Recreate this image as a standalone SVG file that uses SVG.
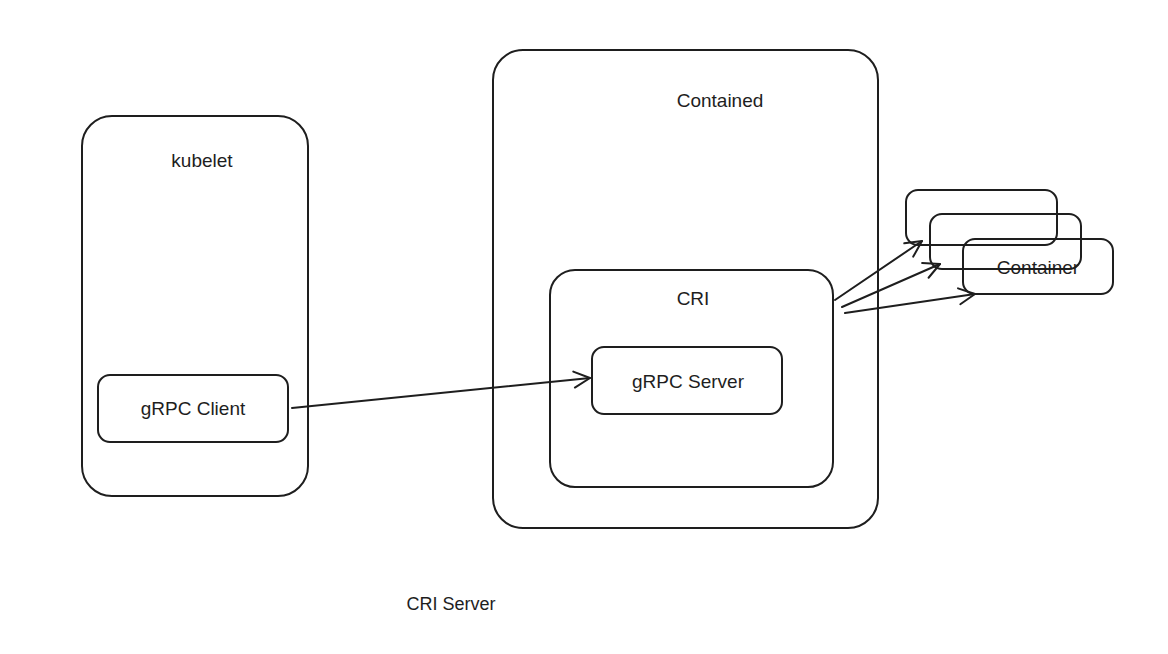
<svg xmlns="http://www.w3.org/2000/svg" width="1168" height="654" viewBox="0 0 1168 654">
<defs>
<style>
.box{fill:none;stroke:#1e1e1e;stroke-width:2;stroke-linejoin:round}
.t{font-family:"Liberation Sans","DejaVu Sans",sans-serif;font-size:19px;fill:#1e1e1e;text-anchor:middle;dominant-baseline:central}
.c{fill:none;stroke:#1e1e1e;stroke-width:2;stroke-linecap:round}
</style>
<marker id="ah" viewBox="0 0 20 20" refX="18" refY="10" markerWidth="20" markerHeight="20" markerUnits="userSpaceOnUse" orient="auto">
<path d="M2,2 L18,10 L2,18" fill="none" stroke="#1e1e1e" stroke-width="2" stroke-linecap="round" stroke-linejoin="round"/>
</marker>
</defs>
<rect width="1168" height="654" fill="#ffffff"/>
<g id="kubelet">
<rect class="box" x="82" y="116" width="226" height="380" rx="30"/>
<text class="t" x="202" y="160">kubelet</text>
</g>
<g id="grpc-client">
<rect class="box" x="98" y="375" width="190" height="67" rx="12"/>
<text class="t" x="193" y="408">gRPC Client</text>
</g>
<g id="contained">
<rect class="box" x="493" y="50" width="385" height="478" rx="30"/>
<text class="t" x="720" y="100">Contained</text>
</g>
<g id="cri">
<rect class="box" x="550" y="270" width="283" height="217" rx="25"/>
<text class="t" x="693" y="298">CRI</text>
</g>
<g id="grpc-server">
<rect class="box" x="592" y="347" width="190" height="67" rx="12"/>
<text class="t" x="688" y="381">gRPC Server</text>
</g>
<g id="container-1">
<rect class="box" x="906" y="190" width="151" height="55" rx="12"/>
</g>
<g id="container-2">
<rect class="box" x="930" y="214" width="151" height="55" rx="12"/>
</g>
<g id="container-3">
<rect class="box" x="963" y="239" width="150" height="55" rx="12"/>
<text class="t" x="1038" y="267">Container</text>
</g>
<g id="cri-server-label">
<text class="t" x="451" y="604" style="font-size:18px">CRI Server</text>
</g>
<g id="connectors">
<path class="c" d="M292,408 L590,378" marker-end="url(#ah)"/>
<path class="c" d="M835,300 L922,241" marker-end="url(#ah)"/>
<path class="c" d="M842,307 L940,264" marker-end="url(#ah)"/>
<path class="c" d="M845,313 L975,294" marker-end="url(#ah)"/>
</g>
</svg>
